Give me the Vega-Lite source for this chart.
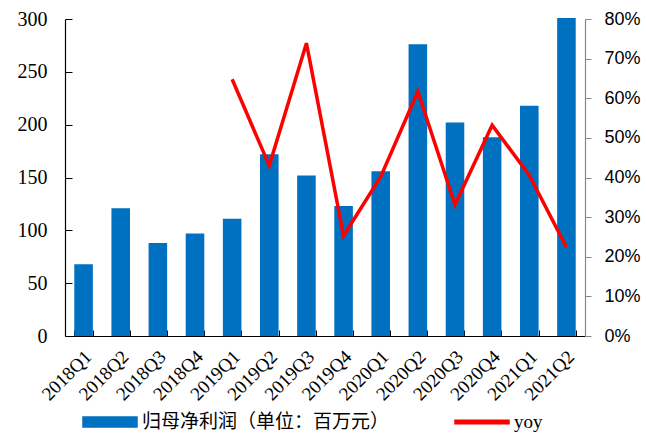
{
  "$schema": "https://vega.github.io/schema/vega-lite/v6.json",
  "width": 520,
  "height": 317,
  "autosize": "none",
  "padding": {"left": 65, "top": 19, "right": 61, "bottom": 98},
  "background": "white",
  "config": {
    "view": {"stroke": null},
    "axis": {"grid": false}
  },
  "data": {
    "values": [
      {"quarter": "2018Q1", "profit": 68, "yoy": null},
      {"quarter": "2018Q2", "profit": 121, "yoy": null},
      {"quarter": "2018Q3", "profit": 88, "yoy": null},
      {"quarter": "2018Q4", "profit": 97, "yoy": null},
      {"quarter": "2019Q1", "profit": 111, "yoy": 0.648},
      {"quarter": "2019Q2", "profit": 172, "yoy": 0.43},
      {"quarter": "2019Q3", "profit": 152, "yoy": 0.739},
      {"quarter": "2019Q4", "profit": 123, "yoy": 0.253},
      {"quarter": "2020Q1", "profit": 156, "yoy": 0.402},
      {"quarter": "2020Q2", "profit": 276, "yoy": 0.617},
      {"quarter": "2020Q3", "profit": 202, "yoy": 0.331},
      {"quarter": "2020Q4", "profit": 188, "yoy": 0.532},
      {"quarter": "2021Q1", "profit": 218, "yoy": 0.406},
      {"quarter": "2021Q2", "profit": 301, "yoy": 0.224}
    ]
  },
  "encoding": {
    "x": {
      "field": "quarter",
      "type": "ordinal",
      "sort": null,
      "title": null,
      "scale": {"paddingInner": 0.5, "paddingOuter": 0.25},
      "axis": {
        "labelAngle": -45,
        "labelFont": "Liberation Serif",
        "labelFontSize": 19,
        "labelColor": "#000000",
        "labelPadding": 17,
        "labelOffset": -2,
        "domainColor": "#000000",
        "domainWidth": 1.2,
        "tickColor": "#000000",
        "tickBand": "extent",
        "tickSize": -6,
        "tickWidth": 1
      }
    }
  },
  "layer": [
    {
      "mark": {"type": "bar", "clip": false},
      "encoding": {
        "y": {
          "field": "profit",
          "type": "quantitative",
          "title": null,
          "scale": {"domain": [0, 300], "nice": false},
          "axis": {
            "orient": "left",
            "values": [0, 50, 100, 150, 200, 250, 300],
            "labelFont": "Liberation Serif",
            "labelFontSize": 20,
            "labelColor": "#000000",
            "labelPadding": 25,
            "domainColor": "#000000",
            "domainWidth": 1.2,
            "tickColor": "#000000",
            "tickSize": -7
          }
        },
        "color": {
          "datum": "归母净利润（单位：百万元）",
          "type": "nominal",
          "scale": {
            "domain": ["归母净利润（单位：百万元）", "yoy"],
            "range": ["#0070C0", "#FF0000"]
          },
          "legend": {
            "title": null,
            "orient": "none",
            "legendX": 17,
            "legendY": 375,
            "direction": "horizontal",
            "symbolSize": 2916,
            "labelFont": "Noto Sans CJK SC",
            "labelFontSize": 19,
            "labelColor": "#000000",
            "labelLimit": 400,
            "labelOffset": 4,
            "columnPadding": 62,
            "encode": {
              "symbols": {
                "update": {
                  "shape": {"signal": "datum.value == 'yoy' ? 'M-1,-0.065H1V0.065H-1Z' : 'M-1,-0.185H1V0.185H-1Z'"},
                  "fill": {"signal": "datum.value == 'yoy' ? '#FF0000' : '#0070C0'"},
                  "stroke": {"value": "transparent"},
                  "opacity": {"value": 1},
                  "fillOpacity": {"value": 1}
                }
              },
              "labels": {
                "update": {
                  "font": {"signal": "datum.value == 'yoy' ? 'Liberation Serif' : 'Noto Sans CJK SC'"}
                }
              }
            }
          }
        }
      }
    },
    {
      "mark": {"type": "line", "strokeWidth": 3.5, "clip": false},
      "encoding": {
        "y": {
          "field": "yoy",
          "type": "quantitative",
          "title": null,
          "scale": {"domain": [0, 0.8], "nice": false},
          "axis": {
            "orient": "right",
            "values": [0, 0.1, 0.2, 0.3, 0.4, 0.5, 0.6, 0.7, 0.8],
            "format": ".0%",
            "labelFont": "Liberation Sans",
            "labelFontSize": 18,
            "labelColor": "#000000",
            "labelPadding": 13,
            "domainColor": "#868686",
            "domainWidth": 1.2,
            "tickColor": "#868686",
            "tickSize": 6
          }
        },
        "color": {"datum": "yoy", "type": "nominal"}
      }
    }
  ],
  "resolve": {"scale": {"y": "independent"}}
}
